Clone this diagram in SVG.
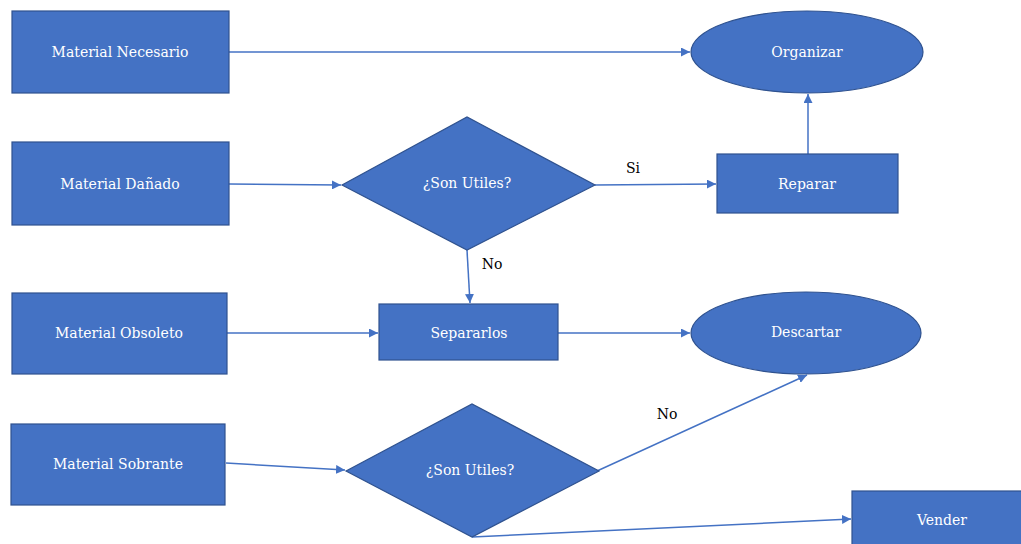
<svg xmlns="http://www.w3.org/2000/svg" width="1021" height="544" viewBox="0 0 1021 544">
<style>
.n{fill:#4472C4;stroke:#2F528F;stroke-width:1.2}
.t{font-family:"DejaVu Serif","Liberation Serif",serif;font-size:14px;fill:#fff;text-anchor:middle;dominant-baseline:central}
.l{font-family:"DejaVu Serif","Liberation Serif",serif;font-size:14px;fill:#000;text-anchor:middle;dominant-baseline:central}
.c{fill:none;stroke:#4472C4;stroke-width:1.5;marker-end:url(#a)}
</style>
<defs>
<marker id="a" viewBox="0 0 10 10" refX="10" refY="5" markerWidth="6" markerHeight="6" orient="auto" markerUnits="strokeWidth">
<path d="M0,0 L10,5 L0,10 z" fill="#4472C4"/>
</marker>
</defs>
<rect width="1021" height="544" fill="#fff"/>
<g id="connectors">
<line class="c" x1="229" y1="52" x2="690" y2="52"/>
<line class="c" x1="229" y1="184" x2="341" y2="185"/>
<line class="c" x1="595" y1="185" x2="716" y2="184"/>
<line class="c" x1="808" y1="154" x2="808" y2="94"/>
<line class="c" x1="467" y1="250" x2="470" y2="303"/>
<line class="c" x1="227" y1="333" x2="378" y2="333"/>
<line class="c" x1="558" y1="333" x2="690" y2="333"/>
<line class="c" x1="226" y1="463" x2="345" y2="470"/>
<line class="c" x1="597" y1="471" x2="807" y2="375"/>
<line class="c" x1="472" y1="537" x2="851" y2="519"/>
<text class="l" x="633" y="168">Si</text>
<text class="l" x="492" y="264">No</text>
<text class="l" x="667" y="414">No</text>
</g>
<g id="n-necesario"><rect class="n" x="12" y="11" width="217" height="82"/><text class="t" x="120" y="52">Material Necesario</text></g>
<g id="n-danado"><rect class="n" x="12" y="142" width="217" height="83"/><text class="t" x="120" y="184">Material Dañado</text></g>
<g id="n-obsoleto"><rect class="n" x="12" y="293" width="215" height="81"/><text class="t" x="119" y="333">Material Obsoleto</text></g>
<g id="n-sobrante"><rect class="n" x="11" y="424" width="214" height="81"/><text class="t" x="118" y="464">Material Sobrante</text></g>
<g id="n-utiles1"><polygon class="n" points="342,185 467,117 595,185 467,250"/><text class="t" x="467" y="183">¿Son Utiles?</text></g>
<g id="n-utiles2"><polygon class="n" points="346,471 472,404 599,471 472,537"/><text class="t" x="470" y="470">¿Son Utiles?</text></g>
<g id="n-organizar"><ellipse class="n" cx="807" cy="52" rx="116" ry="41"/><text class="t" x="807" y="52">Organizar</text></g>
<g id="n-reparar"><rect class="n" x="717" y="154" width="181" height="59"/><text class="t" x="807" y="184">Reparar</text></g>
<g id="n-separarlos"><rect class="n" x="379" y="304" width="179" height="56"/><text class="t" x="469" y="333">Separarlos</text></g>
<g id="n-descartar"><ellipse class="n" cx="806" cy="333" rx="115" ry="41"/><text class="t" x="806" y="332">Descartar</text></g>
<g id="n-vender"><rect class="n" x="852" y="491" width="175" height="60"/><text class="t" x="942" y="520">Vender</text></g>
</svg>
